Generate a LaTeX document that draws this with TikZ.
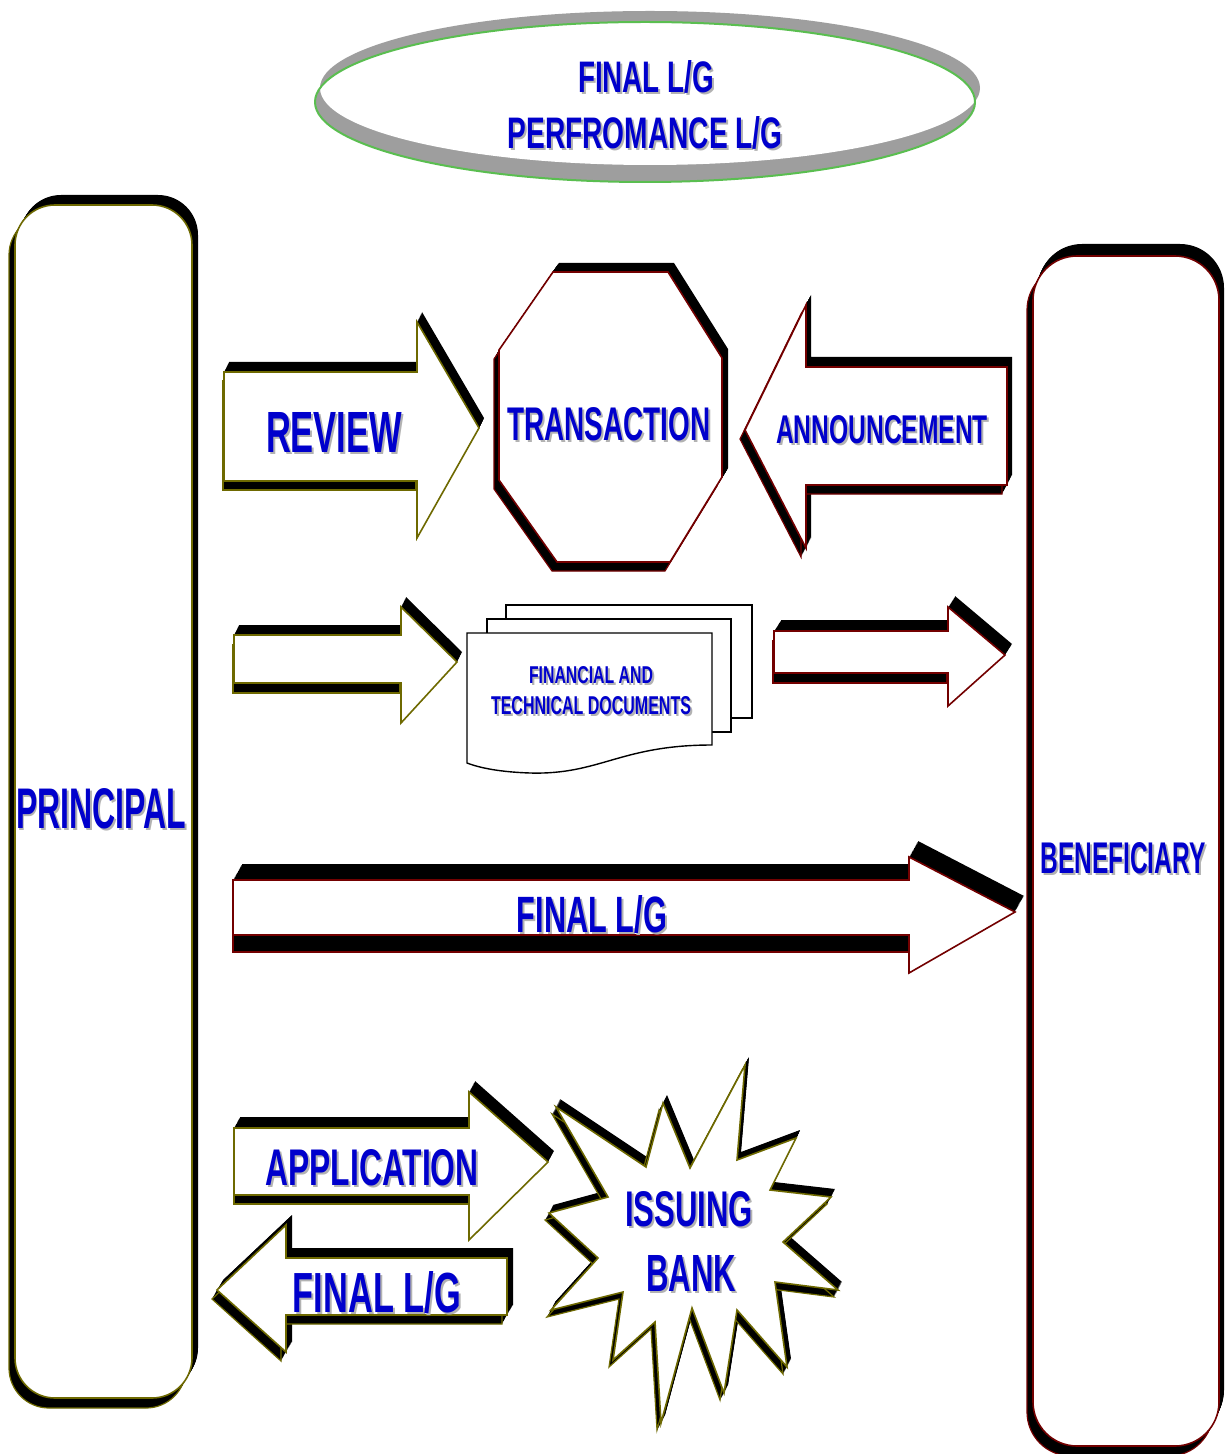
\documentclass[tikz,border=0pt]{standalone}
\usepackage{fontspec}
\setmainfont{Liberation Sans}
\usepackage{graphicx}
\newdimen\px \px=0.5pt
\definecolor{lblue}{RGB}{0,0,204}
\definecolor{olv}{RGB}{110,105,0}
\definecolor{drd}{RGB}{115,0,0}
\definecolor{shd}{RGB}{178,178,178}
\definecolor{rim}{RGB}{158,158,158}
\definecolor{rimgreen}{RGB}{90,190,80}
% extruded shape: #1 face, #2 lower wall, #3/#4 upper depth, #5/#6 lower depth, #7 outline
\newcommand\solid[7]{%
  \foreach \k in {1,...,14}{\fill[black,shift={(\k/14*#3,\k/14*#4)}] #1;}
  \foreach \k in {1,...,14}{\fill[black,shift={(\k/14*#5,\k/14*#6)}] #2;}
  \draw[#7,line width=0.6pt,shift={(#5,#6)}] #2;
  \filldraw[fill=white,draw=#7,line width=0.8pt] #1;}
% label with soft grey drop shadow: name, centre, width, height (px), text
\newcommand\lbl[5]{%
  \node[inner sep=0pt,text=shd,xshift=1pt,yshift=-1pt] (#1-s) at (#2) {\resizebox{#3\px}{#4\px}{\bfseries #5}};
  \node[inner sep=0pt,text=lblue] (#1) at (#2) {\resizebox{#3\px}{#4\px}{\bfseries #5}};}
\begin{document}
\begin{tikzpicture}[x=0.5pt,y=-0.5pt]
\useasboundingbox (0,0) rectangle (1230,1454);
\fill[white] (0,0) rectangle (1230,1454);

% top ring
\fill[rim] (650,88) ellipse [x radius=330, y radius=77];
\fill[rim] (645,102) ellipse [x radius=330, y radius=80];
\begin{scope}
  \clip (650,88) ellipse [x radius=330, y radius=77];
  \fill[white] (645,102) ellipse [x radius=330, y radius=80];
\end{scope}
\draw[rimgreen,line width=1pt] (645,102) ellipse [x radius=330, y radius=80];

% side pillars
\solid{[rounded corners=20pt] (15,205) rectangle (192,1398)}
      {[rounded corners=20pt] (15,205) rectangle (192,1398)}{6}{-10}{-6}{10}{olv}
\solid{[rounded corners=22pt] (1033,256) rectangle (1219,1446)}
      {[rounded corners=22pt] (1033,256) rectangle (1219,1446)}{5}{-12}{-6}{10}{drd}

% first row
\solid{(224,372)--(417,372)--(417,322)--(479,428)--(417,538)--(417,481)--(224,481)--cycle}
      {(224,372) rectangle (417,481)}{5}{-10}{-1}{9}{olv}
\solid{(553,272)--(668,272)--(722,358)--(722,477)--(670,562)--(557,562)--(499,480)--(499,350)--cycle}
      {(553,272)--(668,272)--(722,358)--(722,477)--(670,562)--(557,562)--(499,480)--(499,350)--cycle}
      {6}{-9}{-5}{9}{drd}
\solid{(1007,367)--(806,367)--(806,305)--(745,430)--(806,548)--(806,485)--(1007,485)--cycle}
      {(1007,367)--(806,367)--(806,305)--(745,430)--(806,548)--(806,485)--(1007,485)--cycle}
      {5}{-10}{-5}{9}{drd}

% second row
\solid{(234,635)--(401,635)--(401,607)--(457,662)--(401,723)--(401,683)--(234,683)--cycle}
      {(234,635) rectangle (401,683)}{5}{-10}{-1}{10}{olv}
\solid{(774,631)--(948,631)--(948,607)--(1005,655)--(948,706)--(948,673)--(774,673)--cycle}
      {(774,631) rectangle (948,673)}{7}{-11}{-1}{10}{drd}
% stacked documents
\filldraw[fill=white,draw=black,line width=0.7pt] (506,605) rectangle (752,718);
\filldraw[fill=white,draw=black,line width=0.7pt] (487,619) rectangle (731,732);
\filldraw[fill=white,draw=black,line width=0.7pt] (467,633) -- (712,633) -- (712,745)
  .. controls (620,745) and (600,775) .. (530,773)
  .. controls (500,772) and (480,768) .. (467,763) -- cycle;

% third row
\solid{(233,880)--(909,880)--(909,857)--(1015,912)--(909,973)--(909,935)--(233,935)--cycle}
      {(233,880) rectangle (909,935)}{9}{-16}{0}{17}{drd}

% fourth row
\solid{(234,1128)--(469,1128)--(469,1092)--(548,1162)--(469,1240)--(469,1195)--(234,1195)--cycle}
      {(234,1128) rectangle (469,1195)}{6}{-11}{0}{9}{olv}
\solid{(507,1258)--(286,1258)--(286,1225)--(217,1290)--(286,1352)--(286,1315)--(507,1315)--cycle}
      {(507,1258)--(286,1258)--(286,1225)--(217,1290)--(286,1352)--(286,1315)--(507,1315)--cycle}
      {6}{-10}{-5}{9}{olv}
\solid{(556,1107)--(646,1167)--(663,1103)--(690,1168)--(745,1065)--(737,1160)--(796,1138)--(770,1190)--(831,1197)--(783,1242)--(838,1290)--(775,1282)--(787,1367)--(737,1310)--(724,1393)--(692,1308)--(661,1423)--(655,1322)--(613,1360)--(623,1292)--(551,1310)--(598,1258)--(549,1213)--(608,1197)--cycle}
      {(556,1107)--(646,1167)--(663,1103)--(690,1168)--(745,1065)--(737,1160)--(796,1138)--(770,1190)--(831,1197)--(783,1242)--(838,1290)--(775,1282)--(787,1367)--(737,1310)--(724,1393)--(692,1308)--(661,1423)--(655,1322)--(613,1360)--(623,1292)--(551,1310)--(598,1258)--(549,1213)--(608,1197)--cycle}
      {4}{-8}{-4}{7}{olv}

% labels
\lbl{topA}{646,77}{136}{32}{FINAL L/G}
\lbl{topB}{645,133}{275}{32}{PERFROMANCE L/G}
\lbl{review}{334,432}{136}{40}{REVIEW}
\lbl{trans}{609,424}{203}{33}{TRANSACTION}
\lbl{announce}{882,430}{212}{28}{ANNOUNCEMENT}
\lbl{docA}{591,675}{124}{17}{FINANCIAL AND}
\lbl{docB}{591,706}{200}{18}{TECHNICAL DOCUMENTS}
\lbl{principal}{101,809}{170}{40}{PRINCIPAL}
\lbl{benef}{1123,858}{165}{31}{BENEFICIARY}
\lbl{finalMid}{592,915}{150}{37}{FINAL L/G}
\lbl{applic}{372,1168}{213}{36}{APPLICATION}
\lbl{finalBot}{377,1293}{168}{41}{FINAL L/G}
\lbl{issuing}{689,1209}{128}{35}{ISSUING}
\lbl{bank}{691,1273}{90}{36}{BANK}
\end{tikzpicture}
\end{document}
